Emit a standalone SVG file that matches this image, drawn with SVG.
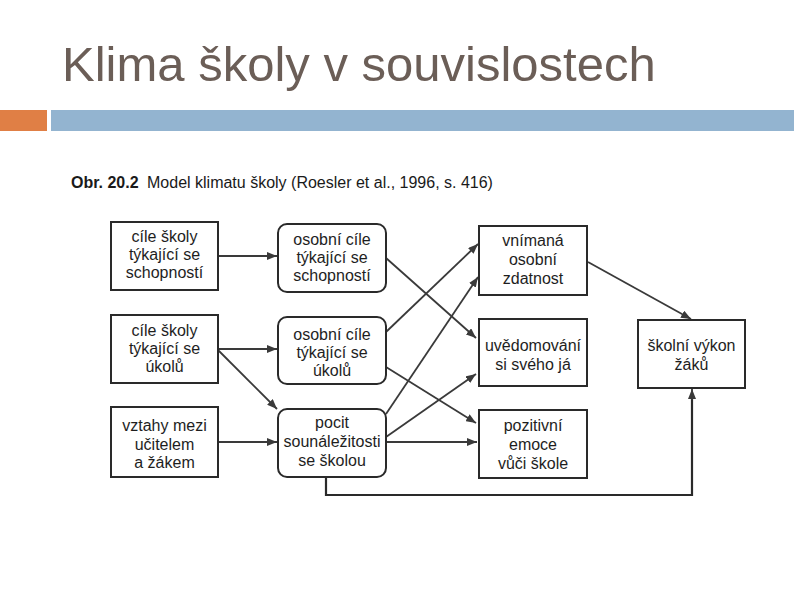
<svg xmlns="http://www.w3.org/2000/svg" width="794" height="595" viewBox="0 0 794 595">
<defs>
<marker id="ah" viewBox="0 0 10 8" refX="10" refY="4" markerWidth="10" markerHeight="8" markerUnits="userSpaceOnUse" orient="auto">
<path d="M0,0 L10,4 L0,8 Z" fill="#3a3a3a"/>
</marker>
<style>
.title{font-family:"Liberation Sans",Arial,sans-serif;font-size:49px;fill:#6b5e57}
.cap{font-family:"Liberation Sans",Arial,sans-serif;font-size:16px;fill:#1a1a1a}
.t{font-family:"Liberation Sans",Arial,sans-serif;font-size:16px;fill:#1e1e1e;text-anchor:middle}
.box{fill:#ffffff;stroke:#2a2a2a;stroke-width:2}
.c{fill:none;stroke:#3a3a3a;stroke-width:1.8;marker-end:url(#ah)}
.cl{fill:none;stroke:#2a2a2a;stroke-width:2.2}
</style>
</defs>
<rect x="0" y="0" width="794" height="595" fill="#ffffff"/>
<text class="title" x="62" y="81">Klima školy v souvislostech</text>
<rect x="0" y="110" width="47" height="21" fill="#e07f45"/>
<rect x="51" y="110" width="743" height="21" fill="#93b4d0"/>
<text class="cap" x="71" y="188"><tspan font-weight="bold">Obr. 20.2</tspan><tspan x="147">Model klimatu školy (Roesler et al., 1996, s. 416)</tspan></text>

<g id="connectors">
<line class="c" x1="218" y1="256" x2="277" y2="256"/>
<line class="c" x1="218" y1="349" x2="277" y2="349"/>
<line class="c" x1="218" y1="350" x2="277" y2="409"/>
<line class="c" x1="218" y1="442" x2="277" y2="442"/>
<line class="c" x1="386" y1="258" x2="476" y2="338"/>
<line class="c" x1="386" y1="332" x2="478" y2="244"/>
<line class="c" x1="386" y1="367" x2="476" y2="423"/>
<line class="c" x1="386" y1="414" x2="478" y2="277"/>
<line class="c" x1="386" y1="437" x2="476" y2="374"/>
<line class="c" x1="386" y1="442" x2="477" y2="442"/>
<line class="c" x1="588" y1="262" x2="691" y2="319"/>
<polyline class="cl" points="326,477 326,495 692,495 692,398"/>
<line class="c" x1="692" y1="400" x2="692" y2="389"/>
</g>

<g id="n-cile-schopnosti">
<rect class="box" x="111" y="222" width="107" height="68"/>
<text class="t" x="164.5" y="242">cíle školy</text>
<text class="t" x="164.5" y="260">týkající se</text>
<text class="t" x="164.5" y="278">schopností</text>
</g>
<g id="n-cile-ukolu">
<rect class="box" x="111" y="315" width="107" height="68"/>
<text class="t" x="164.5" y="336">cíle školy</text>
<text class="t" x="164.5" y="354">týkající se</text>
<text class="t" x="164.5" y="372">úkolů</text>
</g>
<g id="n-vztahy">
<rect class="box" x="111" y="407" width="107" height="70"/>
<text class="t" x="164.5" y="431">vztahy mezi</text>
<text class="t" x="164.5" y="450">učitelem</text>
<text class="t" x="164.5" y="468">a žákem</text>
</g>

<g id="n-osobni-schopnosti">
<rect class="box" x="278" y="224" width="108" height="68" rx="9"/>
<text class="t" x="332" y="245">osobní cíle</text>
<text class="t" x="332" y="263">týkající se</text>
<text class="t" x="332" y="281">schopností</text>
</g>
<g id="n-osobni-ukolu">
<rect class="box" x="278" y="317" width="108" height="67" rx="9"/>
<text class="t" x="332" y="340">osobní cíle</text>
<text class="t" x="332" y="358">týkající se</text>
<text class="t" x="332" y="376">úkolů</text>
</g>
<g id="n-pocit">
<rect class="box" x="278" y="409" width="108" height="68" rx="9"/>
<text class="t" x="332" y="428">pocit</text>
<text class="t" x="332" y="447">sounáležitosti</text>
<text class="t" x="332" y="466">se školou</text>
</g>

<g id="n-vnimana">
<rect class="box" x="479" y="226" width="108" height="69"/>
<text class="t" x="533" y="246">vnímaná</text>
<text class="t" x="533" y="265">osobní</text>
<text class="t" x="533" y="284">zdatnost</text>
</g>
<g id="n-uvedomovani">
<rect class="box" x="479" y="319" width="108" height="67"/>
<text class="t" x="533" y="351">uvědomování</text>
<text class="t" x="533" y="370">si svého já</text>
</g>
<g id="n-pozitivni">
<rect class="box" x="479" y="410" width="108" height="68"/>
<text class="t" x="533" y="431">pozitivní</text>
<text class="t" x="533" y="450">emoce</text>
<text class="t" x="533" y="469">vůči škole</text>
</g>

<g id="n-vykon">
<rect class="box" x="638" y="320" width="107" height="68"/>
<text class="t" x="691.5" y="351">školní výkon</text>
<text class="t" x="691.5" y="370">žáků</text>
</g>
</svg>
